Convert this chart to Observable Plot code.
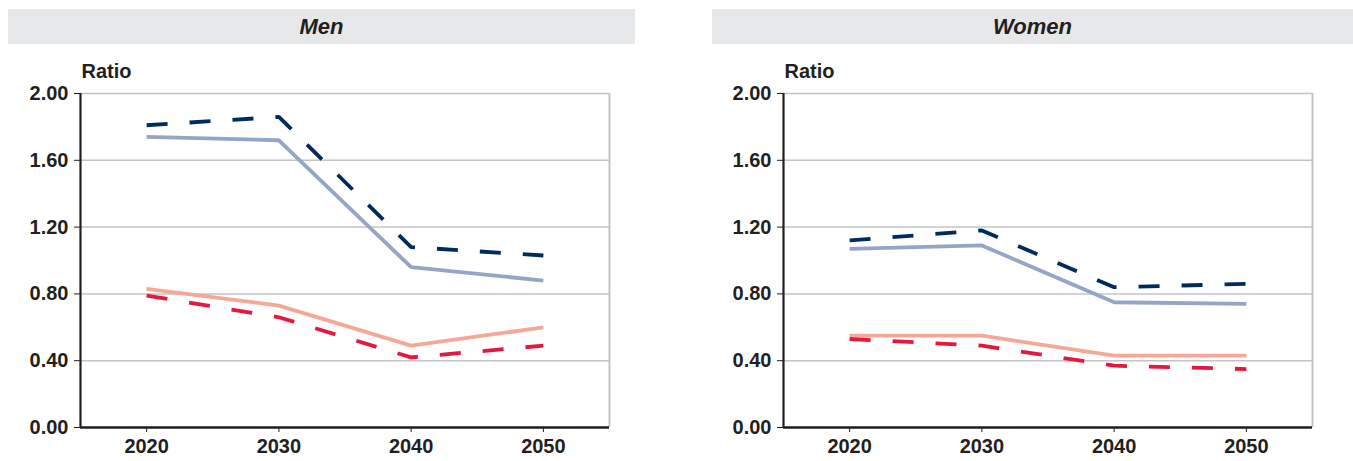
<!DOCTYPE html>
<html>
<head>
<meta charset="utf-8">
<script src="https://cdn.jsdelivr.net/npm/d3@7"></script>
<script src="https://cdn.jsdelivr.net/npm/@observablehq/plot@0.6"></script>
<style>
  html, body { margin: 0; padding: 0; background: #fff; }
  body { width: 1353px; height: 461px; position: relative; overflow: hidden;
         font-family: "Liberation Sans", Arial, sans-serif; color: #231f20; }
  .bar { position: absolute; top: 9px; height: 35px; background: #e6e7e8;
         font-weight: bold; font-style: italic; font-size: 22px; line-height: 35px;
         text-align: center; color: #231f20; }
  .panel { position: absolute; top: 50px; }
</style>
</head>
<body>
<div class="bar" style="left:8px;width:627px;">Men</div>
<div class="bar" style="left:712px;width:641px;">Women</div>
<div class="panel" id="men" style="left:0px;"></div>
<div class="panel" id="women" style="left:703px;"></div>
<script>
// Projection years and the x extent of each panel
const years = [2020, 2030, 2040, 2050];
const xExtent = [2015, 2055];

// Y axis ticks
const yTicks = [0, 0.4, 0.8, 1.2, 1.6, 2.0];

// Men: four projected ratios
const menNavyDashed = [1.81, 1.86, 1.08, 1.03];
const menBlueSolid = [1.74, 1.72, 0.96, 0.88];
const menSalmonSolid = [0.83, 0.73, 0.49, 0.60];
const menRedDashed = [0.79, 0.66, 0.42, 0.49];

// Women: four projected ratios
const womenNavyDashed = [1.12, 1.18, 0.84, 0.86];
const womenBlueSolid = [1.07, 1.09, 0.75, 0.74];
const womenSalmonSolid = [0.55, 0.55, 0.43, 0.43];
const womenRedDashed = [0.53, 0.49, 0.37, 0.35];

const styles = {
  navyDashed: {stroke: "#002b5c", dash: "21,22"},
  blueSolid: {stroke: "#95a5c6", dash: null},
  salmonSolid: {stroke: "#f5a898", dash: null},
  redDashed: {stroke: "#e5173f", dash: "21,22"}
};

function rows(values) {
  return years.map((year, i) => ({year, value: values[i]}));
}

function panel(series) {
  const lines = series.map(([values, key]) => {
    const s = styles[key];
    return Plot.line(rows(values), {
      x: "year", y: "value",
      stroke: s.stroke, strokeWidth: 3.8,
      strokeDasharray: s.dash || undefined,
      strokeLinecap: "butt", strokeLinejoin: "miter"
    });
  });
  return Plot.plot({
    width: 640, height: 411,
    marginLeft: 80, marginRight: 31, marginTop: 43, marginBottom: 34,
    style: {fontFamily: "'Liberation Sans', Arial, sans-serif", fontSize: "20px",
            fontWeight: "bold", color: "#231f20", background: "transparent"},
    x: {domain: xExtent, ticks: years, tickFormat: d => String(d)},
    y: {domain: [0, 2], ticks: yTicks, tickFormat: d3.format(".2f")},
    marks: [
      Plot.gridY(yTicks, {stroke: "#c4c4c4", strokeOpacity: 1, strokeWidth: 1.5}),
      Plot.ruleX([xExtent[1]], {stroke: "#c4c4c4", strokeWidth: 2}),
      Plot.axisY({ticks: yTicks, tickSize: 6, tickPadding: 6, label: null,
                  tickFormat: d3.format(".2f"), stroke: "#231f20"}),
      Plot.axisX({ticks: years, tickSize: 5, tickPadding: 6, label: null,
                  tickFormat: d => String(d), stroke: "#231f20"}),
      ...lines,
      Plot.ruleX([xExtent[0]], {stroke: "#231f20", strokeWidth: 2.2}),
      Plot.ruleY([0], {stroke: "#231f20", strokeWidth: 2.5}),
      Plot.text(["Ratio"], {frameAnchor: "top-left", dx: 1, dy: -16,
                            textAnchor: "start", lineAnchor: "bottom",
                            fontSize: 20, fontWeight: "bold", fill: "#231f20"})
    ]
  });
}

document.getElementById("men").append(panel([
  [menBlueSolid, "blueSolid"],
  [menNavyDashed, "navyDashed"],
  [menSalmonSolid, "salmonSolid"],
  [menRedDashed, "redDashed"]
]));
document.getElementById("women").append(panel([
  [womenBlueSolid, "blueSolid"],
  [womenNavyDashed, "navyDashed"],
  [womenSalmonSolid, "salmonSolid"],
  [womenRedDashed, "redDashed"]
]));
</script>
</body>
</html>
